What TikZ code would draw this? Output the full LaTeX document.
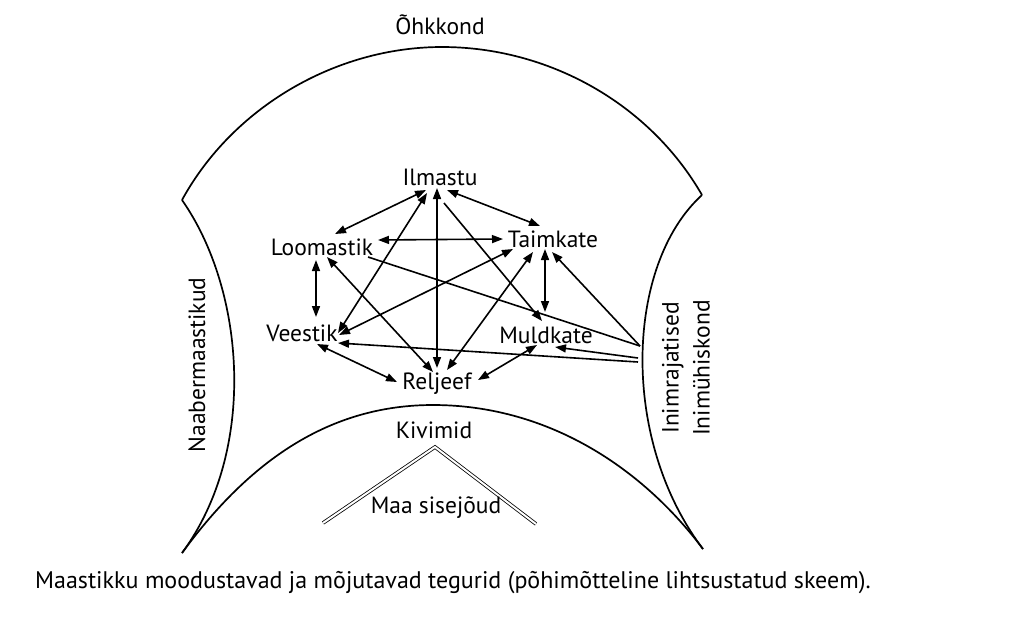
\documentclass[tikz,border=0pt]{standalone}
\usepackage{fontspec}
\setmainfont{PT Sans}
\usetikzlibrary{arrows.meta,calc}
\begin{document}
\begin{tikzpicture}[x=1pt,y=-1pt,
  lbl/.style={font=\fontsize{23.5}{31}\selectfont, inner sep=0pt},
  tipA/.tip={Triangle[length=11pt,width=8pt]},
  bi/.style={{tipA}-{tipA}, line width=1.6pt},
  uni/.style={-{tipA}, line width=1.6pt},
  link/.style={line width=1.6pt},
  outline/.style={line width=1.7pt},
]
\useasboundingbox (0,0) rectangle (1012,619);
% frame corners
\coordinate (TL) at (182,200);
\coordinate (TR) at (702,195);
\coordinate (BR) at (703,549);
\coordinate (BL) at (182,553);
\coordinate (PK) at (442,47);
\coordinate (BP) at (433,405);
\coordinate (inA) at (640,346);
\coordinate (inB) at (638,358);
\coordinate (inC) at (638,362);
% outline
\draw[outline] (TL) .. controls (233,107) and (336,47) .. (PK)
  .. controls (548,47) and (649,103) .. (TR);
\draw[outline] (TL) .. controls (245,290) and (258,450) .. (BL);
\draw[outline] (TR) .. controls (625,265) and (620,440) .. (BR);
\draw[outline] (BL) .. controls (250,460) and (330,405) .. (BP)
  .. controls (545,405) and (640,465) .. (BR);
% Maa sisejoud double line
\coordinate (mL) at (323,523);
\coordinate (mT) at (435,447);
\coordinate (mR) at (536,524);
\draw[double, double distance=2pt, line width=0.8pt] (mL) -- (mT) -- (mR);
% labels
\node[lbl] (ohk) at (440,25) {Õhkkond};
\node[lbl] (ilm) at (440,177) {Ilmastu};
\node[lbl] (loo) at (322,247) {Loomastik};
\node[lbl] (tai) at (553,239) {Taimkate};
\node[lbl] (vee) at (302,333) {Veestik};
\node[lbl] (mul) at (546,335) {Muldkate};
\node[lbl] (rel) at (437,384) {Reljeef};
\node[lbl] (kiv) at (434,430) {Kivimid};
\node[lbl] (maa) at (436,508) {Maa sisejõud};
\node[lbl, rotate=90] (naa) at (197,365) {Naabermaastikud};
\node[lbl, rotate=90, align=center] (ini) at (686,368) {Inimrajatised\\Inimühiskond};
\node[lbl, font=\fontsize{24}{30}\selectfont, anchor=west] (cap) at (35,583) {Maastikku moodustavad ja mõjutavad tegurid (põhimõtteline lihtsustatud skeem).};
% connectors
\draw[bi] ($(ilm)+(-14,13)$) -- ($(loo)+(13,-13)$);
\draw[bi] ($(ilm)+(-13,16)$) -- ($(vee)+(36,0)$);
\draw[bi] ($(ilm)+(-3,11)$) -- ($(rel)+(0,-16)$);
\draw[uni] ($(ilm)+(4,26)$) -- ($(mul)+(-4,-14)$);
\draw[bi] ($(ilm)+(7,13)$) -- ($(tai)+(-13,-13)$);
\draw[bi] ($(loo)+(56,-7)$) -- ($(tai)+(-50,0)$);
\draw[bi] ($(loo)+(-6,13)$) -- ($(vee)+(14,-16)$);
\draw[bi] ($(loo)+(5,10)$) -- ($(rel)+(-4,-12)$);
\draw[link] (inA) -- ($(loo)+(46,10)$);
\draw[bi] ($(tai)+(-40,10)$) -- ($(vee)+(37,2)$);
\draw[bi] ($(tai)+(-20,13)$) -- ($(rel)+(10,-14)$);
\draw[bi] ($(tai)+(-8,10)$) -- ($(mul)+(-1,-23)$);
\draw[uni] (inA) -- ($(tai)+(-1,13)$);
\draw[uni] (inB) -- ($(mul)+(9,12)$);
\draw[uni] (inC) -- ($(vee)+(36,10)$);
\draw[bi] ($(vee)+(15,11)$) -- ($(rel)+(-40,-2)$);
\draw[bi] ($(mul)+(-9,10)$) -- ($(rel)+(41,-4)$);
\end{tikzpicture}
\end{document}
